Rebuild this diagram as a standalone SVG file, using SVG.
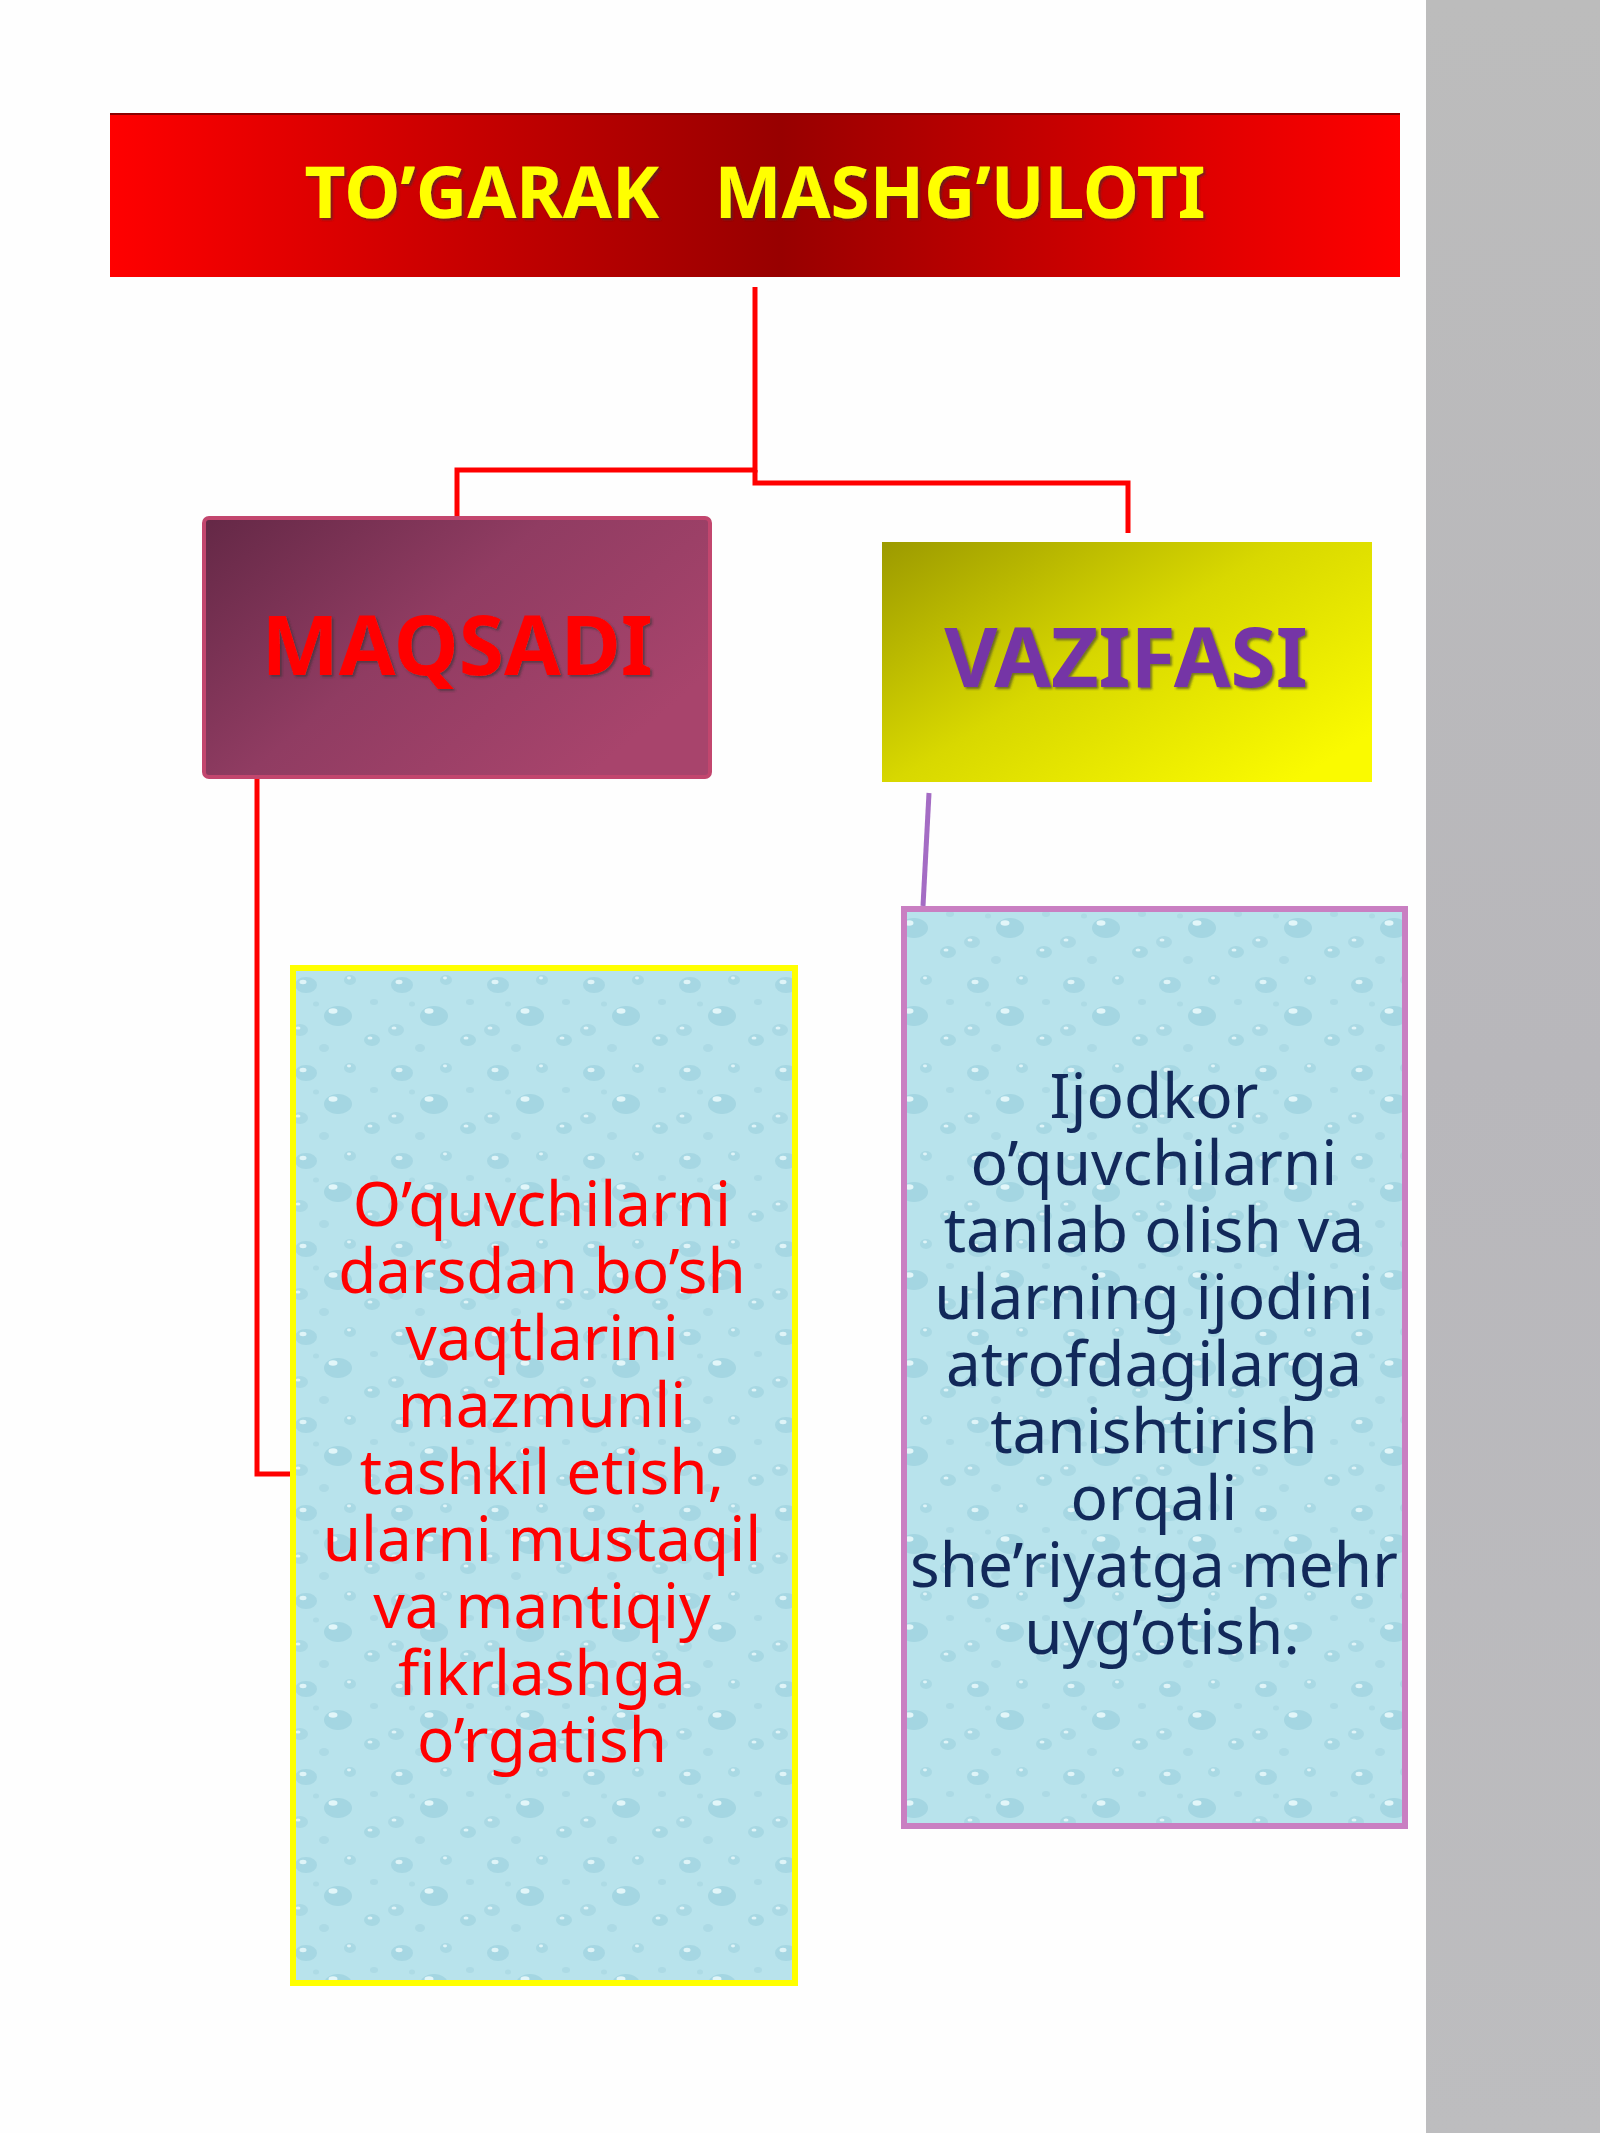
<svg xmlns="http://www.w3.org/2000/svg" width="1600" height="2133" viewBox="0 0 1600 2133">
  <defs>
    <style>
      .conn { fill: none; stroke: #ff0000; stroke-width: 5; stroke-linejoin: miter; }
      .title { font-family: "Noto Sans", "DejaVu Sans", sans-serif; font-weight: bold; font-size: 71px; fill: #ffff00; text-anchor: middle; }
      .head { font-family: "Noto Sans", "DejaVu Sans", sans-serif; font-weight: bold; font-size: 82px; text-anchor: middle; }
      .body { font-family: "Noto Sans", "DejaVu Sans", sans-serif; font-size: 62px; text-anchor: middle; }
    </style>
    <linearGradient id="gTitle" x1="0" y1="0" x2="1" y2="0">
      <stop offset="0" stop-color="#ff0000"/>
      <stop offset="0.15" stop-color="#e00000"/>
      <stop offset="0.52" stop-color="#980000"/>
      <stop offset="0.85" stop-color="#e00000"/>
      <stop offset="1" stop-color="#ff0000"/>
    </linearGradient>
    <linearGradient id="gMaq" x1="0" y1="0" x2="1" y2="0.6">
      <stop offset="0" stop-color="#642846"/>
      <stop offset="0.5" stop-color="#903c62"/>
      <stop offset="1" stop-color="#a8446c"/>
    </linearGradient>
    <linearGradient id="gVaz" x1="0" y1="0" x2="1" y2="0.8">
      <stop offset="0" stop-color="#9c9a00"/>
      <stop offset="0.5" stop-color="#d8d800"/>
      <stop offset="1" stop-color="#fafa00"/>
    </linearGradient>
    <linearGradient id="gSide" x1="0" y1="0" x2="0" y2="1">
      <stop offset="0" stop-color="#bcbcbc"/>
      <stop offset="0.5" stop-color="#b8b7bb"/>
      <stop offset="1" stop-color="#bdbdbf"/>
    </linearGradient>
    <pattern id="drops" width="96" height="88" patternUnits="userSpaceOnUse">
      <rect width="96" height="88" fill="#b8e3ec"/>
      <ellipse cx="18" cy="17" rx="11" ry="8" fill="#a6d7e3"/>
      <ellipse cx="15" cy="14" rx="3.5" ry="2.2" fill="#dff4f8"/>
      <ellipse cx="62" cy="12" rx="6" ry="5" fill="#a9d9e4"/>
      <ellipse cx="61" cy="10" rx="2" ry="1.4" fill="#dff4f8"/>
      <ellipse cx="50" cy="48" rx="14" ry="10" fill="#a4d6e2"/>
      <ellipse cx="45" cy="43" rx="4.5" ry="2.8" fill="#e2f6f9"/>
      <ellipse cx="12" cy="62" rx="8" ry="6" fill="#aad9e4"/>
      <ellipse cx="10" cy="60" rx="2.5" ry="1.6" fill="#dff4f8"/>
      <ellipse cx="84" cy="72" rx="8" ry="6" fill="#a7d8e3"/>
      <ellipse cx="82" cy="70" rx="2.5" ry="1.6" fill="#dff4f8"/>
      <ellipse cx="36" cy="80" rx="5" ry="4" fill="#acdae5"/>
      <ellipse cx="86" cy="34" rx="4" ry="3" fill="#acdae5"/>
      <ellipse cx="28" cy="36" rx="3" ry="2.5" fill="#addbe5"/>
    </pattern>
    <filter id="sh" x="-5%" y="-10%" width="110%" height="120%">
      <feDropShadow dx="2" dy="2" stdDeviation="1" flood-color="#333" flood-opacity="0.6"/>
    </filter>
  </defs>

  <rect width="1600" height="2133" fill="#fefefe"/>
  <rect id="side-panel" x="1426" y="0" width="174" height="2133" fill="url(#gSide)"/>

  <g id="connectors">
    <polyline class="conn" points="755,287 755,470 457,470 457,520"/>
    <polyline class="conn" points="755,470 755,483 1128,483 1128,533"/>
    <polyline class="conn" points="257,777 257,1474 293,1474"/>
    <line x1="929" y1="793" x2="923" y2="906" stroke="#a46cc4" stroke-width="5"/>
  </g>

  <g id="node-title">
    <rect x="110" y="113" width="1290" height="164" fill="url(#gTitle)"/>
    <line x1="110" y1="114" x2="1400" y2="114" stroke="#8a0000" stroke-width="2"/>
    <text class="title" x="755" y="218" xml:space="preserve" filter="url(#sh)">TO’GARAK   MASHG’ULOTI</text>
  </g>

  <g id="node-maqsadi">
    <rect x="204" y="518" width="506" height="259" rx="5" fill="url(#gMaq)" stroke="#c2466e" stroke-width="4"/>
    <text class="head" x="457" y="675" fill="#ff0000" filter="url(#sh)">MAQSADI</text>
  </g>

  <g id="node-vazifasi">
    <rect x="882" y="542" width="490" height="240" fill="url(#gVaz)"/>
    <text class="head" x="1126" y="687" fill="#7434a6" font-size="80" filter="url(#sh)">VAZIFASI</text>
  </g>

  <g id="node-maqsadi-text">
    <rect x="293" y="968" width="502" height="1015" fill="url(#drops)" stroke="#ffff00" stroke-width="6"/>
    <text class="body" fill="#ff0000">
      <tspan x="550" y="1226">O’quvchilarni</tspan>
      <tspan x="550" y="1293">darsdan bo’sh</tspan>
      <tspan x="550" y="1360">vaqtlarini</tspan>
      <tspan x="550" y="1427">mazmunli</tspan>
      <tspan x="550" y="1494">tashkil etish,</tspan>
      <tspan x="550" y="1561">ularni mustaqil</tspan>
      <tspan x="550" y="1628">va mantiqiy</tspan>
      <tspan x="550" y="1695">fikrlashga</tspan>
      <tspan x="542" y="1762">o’rgatish</tspan>
    </text>
  </g>

  <g id="node-vazifasi-text">
    <rect x="904" y="909" width="501" height="917" fill="url(#drops)" stroke="#c97fc2" stroke-width="6"/>
    <text class="body" fill="#12295a">
      <tspan x="1162" y="1118">Ijodkor</tspan>
      <tspan x="1162" y="1185">o’quvchilarni</tspan>
      <tspan x="1162" y="1252">tanlab olish va</tspan>
      <tspan x="1162" y="1319">ularning ijodini</tspan>
      <tspan x="1162" y="1386">atrofdagilarga</tspan>
      <tspan x="1162" y="1453">tanishtirish</tspan>
      <tspan x="1162" y="1520">orqali</tspan>
      <tspan x="1162" y="1587">she’riyatga mehr</tspan>
      <tspan x="1162" y="1654">uyg’otish.</tspan>
    </text>
  </g>
</svg>
